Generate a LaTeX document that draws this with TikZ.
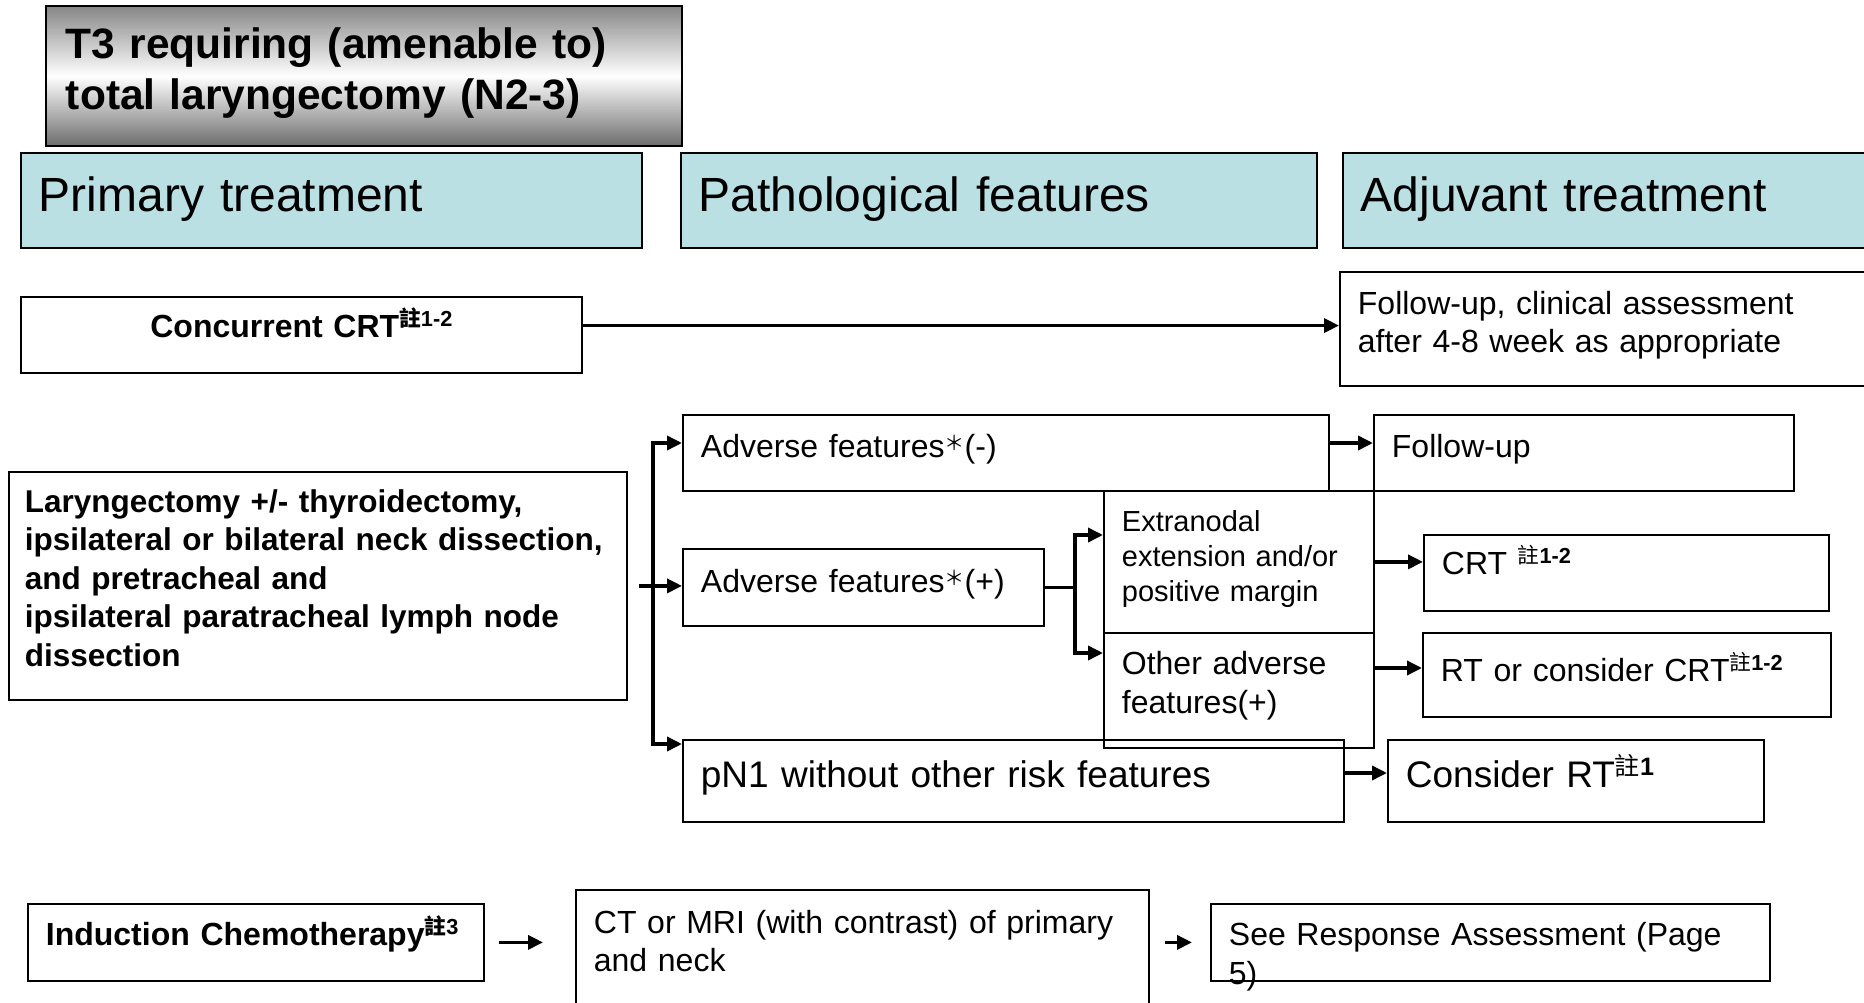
\documentclass[tikz,border=0pt]{standalone}
\usepackage{fontspec}
\setmainfont{Liberation Sans}
\newfontfamily\cjk{Noto Sans CJK TC}
\usetikzlibrary{arrows.meta, calc}

\definecolor{headblue}{RGB}{186,224,227}

% note mark and wide asterisk
\newcommand{\zhu}[1]{\raisebox{0.33em}{\scalebox{0.68}{{\cjk 註}\textbf{#1}}}}
\newcommand{\fwstar}{\raisebox{0.22em}{\scalebox{0.63}{\cjk ＊}}}

\begin{document}
\begin{tikzpicture}[
    x=1pt, y=-1pt,
    box/.style={draw, line width=1.8pt, anchor=north west, inner xsep=18pt, inner ysep=0pt, align=left},
    body/.style={font={\fontsize{32}{38}\selectfont}},
    bigger/.style={font={\fontsize{37}{44}\selectfont}},
    head/.style={box, fill=headblue, font={\fontsize{48}{56}\selectfont}, text height=59pt, text depth=36pt},
    arrow/.style={line width=3.5pt, -{Triangle[length=15pt,width=14pt]}},
    link/.style={line width=3.5pt}
]
\useasboundingbox (0,0) rectangle (1864,1003);

% --- 1. Title and column heads ---
\node[box, inner xsep=20pt, top color=gray!95, bottom color=gray!85!black, middle color=white,
      font={\fontsize{42.5}{51}\selectfont\bfseries},
      text width=596pt, text height=53pt, text depth=87pt] (title) at (45,5)
    {T3 requiring (amenable to)\\total laryngectomy (N2-3)};

\node[head, text width=585pt] (hprim) at (20,152) {Primary treatment};
\node[head, text width=600pt] (hpath) at (680,152) {Pathological features};
\node[head, text width=564pt] (hadj) at (1342,152) {Adjuvant treatment};

% --- 2. Concurrent CRT row ---
\node[box, body, align=center, font={\fontsize{32}{38}\selectfont\bfseries},
      text width=525pt, text height=40.5pt, text depth=35.5pt] (ccrt) at (20,296)
    {Concurrent CRT\zhu{1-2}};
\node[box, body, text width=564pt, text height=42.5pt, text depth=71.5pt] (fuc) at (1339,271)
    {Follow-up, clinical assessment\\after 4-8 week as appropriate};

% --- 3. Surgery row ---
\node[box, inner xsep=16pt, font={\fontsize{31.5}{38.5}\selectfont\bfseries},
      text width=586pt, text height=40.5pt, text depth=187.5pt] (lar) at (8,471)
    {Laryngectomy +/- thyroidectomy,\\ipsilateral or bilateral neck dissection,\\and pretracheal and\\ipsilateral paratracheal lymph node\\dissection};

\node[box, body, text width=610pt, text height=42.5pt, text depth=33.5pt] (advm) at (682,414)
    {Adverse features\fwstar(-)};
\node[box, body, text width=325pt, text height=43.5pt, text depth=33.5pt] (advp) at (682,548)
    {Adverse features\fwstar(+)};
\node[box, font={\fontsize{29}{35}\selectfont}, text width=234pt, text height=40.5pt, text depth=101.5pt] (ext) at (1103,490)
    {Extranodal\\extension and/or\\positive margin};
\node[box, font={\fontsize{32}{39}\selectfont}, text width=234pt, text height=41.5pt, text depth=73.5pt] (oth) at (1103,632)
    {Other adverse\\features(+)};
\node[box, bigger, text width=625pt, text height=48pt, text depth=34pt] (pnone) at (682,739)
    {pN1 without other risk features};

\node[box, body, text width=384pt, text height=42.5pt, text depth=33.5pt] (fu) at (1373,414)
    {Follow-up};
\node[box, body, text width=369pt, text height=39.5pt, text depth=36.5pt] (crt) at (1423,534)
    {CRT \zhu{1-2}};
\node[box, body, text width=372pt, text height=48.5pt, text depth=35.5pt] (rt) at (1422,632)
    {RT or consider CRT\zhu{1-2}};
\node[box, bigger, text width=340pt, text height=48pt, text depth=34pt] (cons) at (1387,739)
    {Consider RT\zhu{1}};

% --- 4. Induction row ---
\node[box, font={\fontsize{32}{38}\selectfont\bfseries}, text width=420pt, text height=41.5pt, text depth=35.5pt] (ind) at (27,903)
    {Induction Chemotherapy\zhu{3}};
\node[box, body, text width=537pt, text height=43.5pt, text depth=106.5pt] (ct) at (575,889)
    {CT or MRI (with contrast) of primary\\and neck};
\node[box, font={\fontsize{32}{39}\selectfont}, text width=523pt, text height=41.5pt, text depth=35.5pt] (see) at (1210,903)
    {See Response Assessment (Page\\5)};

% --- 5. Connectors ---
\coordinate (ccrtout) at ($(ccrt.north east)!.38!(ccrt.south east)$);
\draw[arrow] (ccrtout) -- (ccrtout -| fuc.west);

% surgery split
\coordinate (larout) at ([xshift=11pt]lar.east);
\coordinate (split1) at ([xshift=25pt]lar.east);
\draw[arrow] (larout) -- (larout -| advp.west);
\draw[arrow] (split1) |- ([yshift=-29pt]advm.north west);
\draw[arrow] (split1) |- ([yshift=-5pt]pnone.north west);

% adverse features split
\coordinate (split2) at ([xshift=30pt]advp.east);
\draw[link] (advp.east) -- (split2);
\draw[arrow] (split2) |- ([yshift=-45pt]ext.north west);
\draw[arrow] (split2) |- ([yshift=-21pt]oth.north west);

% to adjuvant treatment
\coordinate (advmout) at ([yshift=-29pt]advm.north east);
\draw[arrow] (advmout) -- (advmout -| fu.west);
\draw[arrow] (ext.east) -- (ext.east -| crt.west);
\coordinate (othout) at ([yshift=-36pt]oth.north east);
\draw[arrow] (othout) -- (othout -| rt.west);
\coordinate (pnoneout) at ([yshift=-34pt]pnone.north east);
\draw[arrow] (pnoneout) -- (pnoneout -| cons.west);

% induction row
\coordinate (indout) at ([xshift=14pt]ind.east);
\path (indout -| ct.west) coordinate (ctedge);
\draw[arrow] (indout) -- ([xshift=-32pt]ctedge);
\coordinate (seein) at ([xshift=-18pt]see.west);
\path (seein -| ct.east) coordinate (ctout);
\draw[arrow] ([xshift=15pt]ctout) -- (seein);

\end{tikzpicture}
\end{document}
